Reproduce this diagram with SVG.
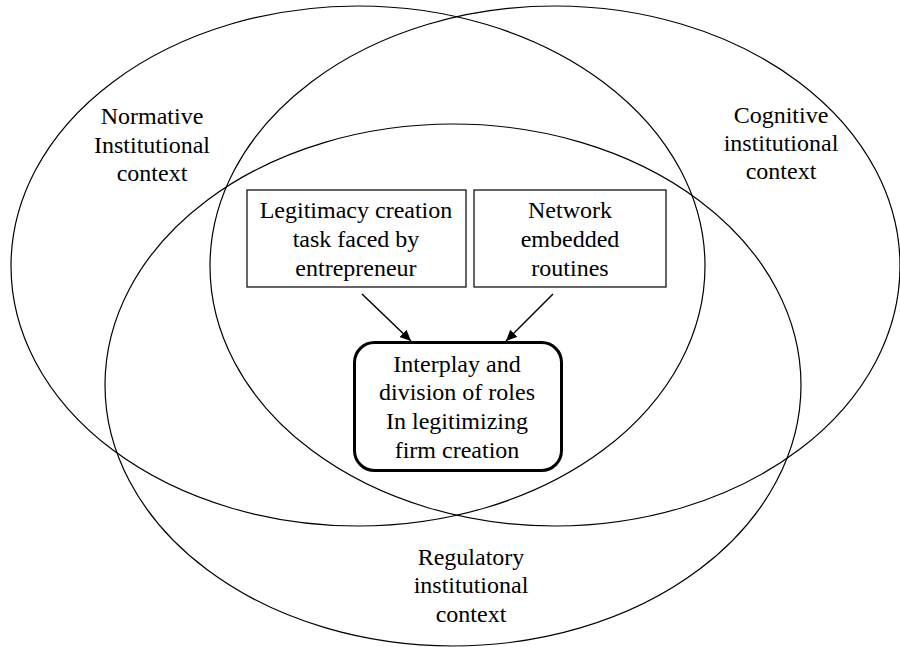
<svg xmlns="http://www.w3.org/2000/svg" width="900" height="647" viewBox="0 0 900 647">
  <style>
    .ctx { fill: none; stroke: #000; stroke-width: 1.2; }
    .box { fill: #fff; stroke: #000; stroke-width: 1.2; }
    .core { fill: #fff; stroke: #000; stroke-width: 3; }
    .lbl { font-family: "Liberation Serif", "Times New Roman", serif; font-size: 24px; fill: #000; text-anchor: middle; }
    .link { fill: none; stroke: #000; stroke-width: 1.5; }
  </style>
  <defs>
    <marker id="arrow" markerUnits="userSpaceOnUse" markerWidth="12" markerHeight="10" refX="11" refY="5" orient="auto">
      <path d="M0,0 L11,5 L0,10 Z" fill="#000"/>
    </marker>
  </defs>

  <rect width="900" height="647" fill="#fff"/>

  <!-- institutional contexts -->
  <g id="normative">
    <ellipse class="ctx" cx="358" cy="266" rx="347" ry="260"/>
    <text class="lbl" x="152" y="124">Normative</text>
    <text class="lbl" x="152" y="153">Institutional</text>
    <text class="lbl" x="152" y="181">context</text>
  </g>
  <g id="cognitive">
    <ellipse class="ctx" cx="555" cy="266" rx="345" ry="260"/>
    <text class="lbl" x="781" y="123">Cognitive</text>
    <text class="lbl" x="781" y="151">institutional</text>
    <text class="lbl" x="781" y="179">context</text>
  </g>
  <g id="regulatory">
    <ellipse class="ctx" cx="453" cy="385" rx="348" ry="261"/>
    <text class="lbl" x="471" y="565">Regulatory</text>
    <text class="lbl" x="471" y="593">institutional</text>
    <text class="lbl" x="471" y="622">context</text>
  </g>

  <!-- inputs -->
  <g id="legitimacy-task">
    <rect class="box" x="247" y="190" width="219" height="97"/>
    <text class="lbl" x="356" y="218">Legitimacy creation</text>
    <text class="lbl" x="356" y="247">task faced by</text>
    <text class="lbl" x="356" y="276">entrepreneur</text>
  </g>
  <g id="network-routines">
    <rect class="box" x="474" y="190" width="192" height="97"/>
    <text class="lbl" x="570" y="218">Network</text>
    <text class="lbl" x="570" y="247">embedded</text>
    <text class="lbl" x="570" y="276">routines</text>
  </g>

  <!-- outcome -->
  <g id="interplay">
    <rect class="core" x="354.5" y="342.5" width="207" height="128" rx="20" ry="20"/>
    <text class="lbl" x="457" y="372">Interplay and</text>
    <text class="lbl" x="457" y="400">division of roles</text>
    <text class="lbl" x="457" y="429">In legitimizing</text>
    <text class="lbl" x="457" y="458">firm creation</text>
  </g>

  <g id="connectors">
    <line class="link" x1="362" y1="294" x2="411" y2="341" marker-end="url(#arrow)"/>
    <line class="link" x1="553" y1="294" x2="506" y2="341" marker-end="url(#arrow)"/>
  </g>
</svg>
